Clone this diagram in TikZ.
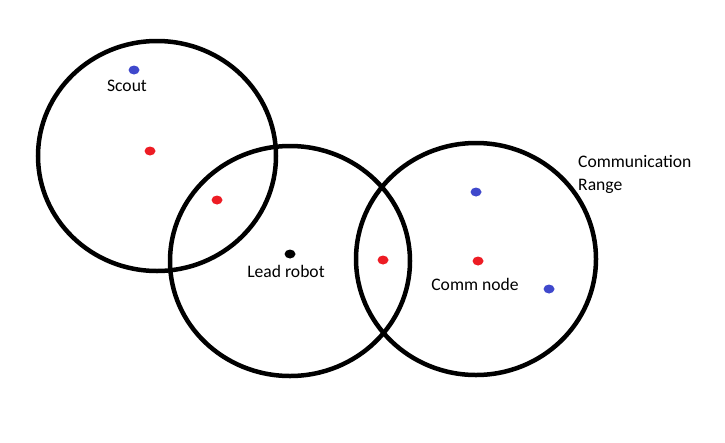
\documentclass[tikz,border=0pt]{standalone}
\usepackage{fontspec}
\setmainfont{Carlito}
\definecolor{pblue}{HTML}{3F48CC}
\definecolor{pred}{HTML}{ED1C24}
\begin{document}
\begin{tikzpicture}[x=1pt,y=-1pt,
  rangecircle/.style={draw=black,line width=4.5pt},
  lbl/.style={font=\fontsize{17.6}{23}\selectfont,inner sep=0pt,text=black}]
\useasboundingbox (0,0) rectangle (725,442);
\draw[rangecircle] (157,156) ellipse [x radius=119, y radius=115];
\draw[rangecircle] (290,261) ellipse [x radius=120, y radius=115];
\draw[rangecircle] (476,259) ellipse [x radius=120, y radius=116];
\fill[pblue] (134,70) ellipse [x radius=5.5, y radius=4.5];
\fill[pred] (150,151) ellipse [x radius=5.5, y radius=4.5];
\fill[pred] (217,200) ellipse [x radius=5.5, y radius=4.5];
\fill[black] (290,254) ellipse [x radius=5.5, y radius=4.5];
\fill[pred] (383,260) ellipse [x radius=5.5, y radius=4.5];
\fill[pblue] (476,192) ellipse [x radius=5.5, y radius=4.5];
\fill[pred] (478,261) ellipse [x radius=5.5, y radius=4.5];
\fill[pblue] (549,289) ellipse [x radius=5.5, y radius=4.5];
\node[lbl] (scout) at (127,86) {Scout};
\node[lbl] (lead) at (286,271) {Lead robot};
\node[lbl] (comm) at (475,284) {Comm node};
\node[lbl,anchor=west,align=left] (rangelbl) at (578,174.5) {Communication\\Range};
\end{tikzpicture}
\end{document}
